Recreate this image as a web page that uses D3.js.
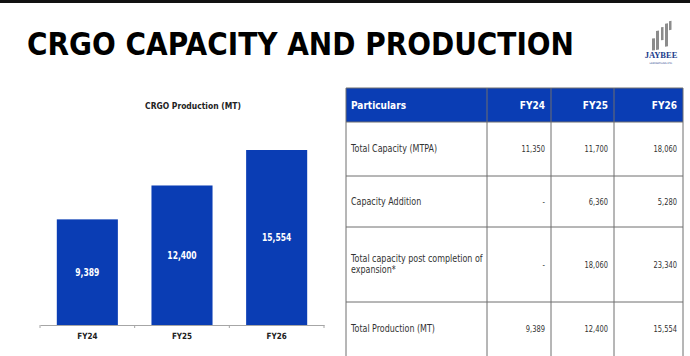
<!DOCTYPE html>
<html>
<head>
<meta charset="utf-8">
<script src="https://cdn.jsdelivr.net/npm/d3@7"></script>
<style>
  body { margin: 0; background: #fff; }
  svg { display: block; }
</style>
</head>
<body>
<div id="chart"></div>
<script>
// chart data
const years = ["FY24", "FY25", "FY26"];
const production = [9389, 12400, 15554];

// table data
const tableHeader = ["Particulars", "FY24", "FY25", "FY26"];
const rowLabels = [
    ["Total Capacity (MTPA)"],
    ["Capacity Addition"],
    ["Total capacity post completion of", "expansion*"],
    ["Total Production (MT)"]
];
const totalCapacity = ["11,350", "11,700", "18,060"];
const capacityAddition = ["-", "6,360", "5,280"];
const capacityPostExpansion = ["-", "18,060", "23,340"];
const totalProduction = ["9,389", "12,400", "15,554"];

const W = 690, H = 356;
const blue = "#0a3db4";
const font = "'DejaVu Sans', sans-serif";

// squeeze text horizontally around its own x (the source font is a narrow DIN-like face)
function squeeze(sel, k) {
    sel.attr("transform", function () {
        const px = +this.getAttribute("x") || 0;
        return `translate(${px * (1 - k)},0) scale(${k},1)`;
    });
}

const svg = d3.select("#chart").append("svg")
    .attr("width", W)
    .attr("height", H)
    .attr("viewBox", [0, 0, W, H]);

// top dark strip
svg.append("rect").attr("x", 0).attr("y", 0).attr("width", W).attr("height", 3).attr("fill", "#111");

// page title
svg.append("text")
    .attr("x", 27).attr("y", 55)
    .attr("font-family", font)
    .attr("font-weight", "bold")
    .attr("font-size", 32)
    .attr("textLength", 547)
    .attr("lengthAdjust", "spacingAndGlyphs")
    .attr("fill", "#000")
    .text("CRGO CAPACITY AND PRODUCTION");

// logo (rough)
const logo = svg.append("g").attr("transform", "translate(649,24)");
[[3, 15, 3, 12], [7, 8, 3, 19], [12, 5, 2.5, 13], [16, 2, 3, 23], [20, 0, 2.5, 9]].forEach(([x, y, w, h]) => {
    logo.append("rect").attr("x", x).attr("y", y).attr("width", w).attr("height", h)
        .attr("fill", "#8c8c8c").attr("transform", "skewY(-8)");
});
const logoText = logo.append("text")
    .attr("text-anchor", "middle")
    .attr("fill", "#1b3c8c");
logoText.append("tspan")
    .attr("x", 12).attr("y", 34)
    .attr("font-family", "'Liberation Serif', serif").attr("font-weight", "bold")
    .attr("font-size", 8.5)
    .text("JAYBEE");
logoText.append("tspan")
    .attr("x", 12).attr("y", 40)
    .attr("font-family", font).attr("font-size", 2.5)
    .text("LAMINATIONS LTD.");

// ---- bar chart ----
const x = d3.scaleBand()
    .domain(years)
    .range([40, 324])
    .paddingInner(0.355)
    .paddingOuter(0.1775);

const y = d3.scaleLinear()
    .domain([0, d3.max(production)])
    .range([325, 150]);

svg.append("text")
    .attr("x", 193).attr("y", 109)
    .attr("text-anchor", "middle")
    .attr("font-family", font)
    .attr("font-weight", "bold")
    .attr("font-size", 9.5)
    .attr("fill", "#222")
    .text("CRGO Production (MT)")
    .call(squeeze, 0.8);

svg.append("g")
    .selectAll("rect")
    .data(production)
    .join("rect")
    .attr("x", (d, i) => x(years[i]))
    .attr("y", d => y(d))
    .attr("width", x.bandwidth())
    .attr("height", d => y(0) - y(d))
    .attr("fill", blue);

svg.append("g")
    .selectAll("text")
    .data(production)
    .join("text")
    .attr("x", (d, i) => x(years[i]) + x.bandwidth() / 2)
    .attr("y", d => (y(d) + y(0)) / 2 + 4)
    .attr("text-anchor", "middle")
    .attr("font-family", font)
    .attr("font-weight", "bold")
    .attr("font-size", 10)
    .attr("fill", "#fff")
    .text(d => d3.format(",")(d))
    .call(squeeze, 0.76);

// x axis with ticks at band boundaries
const axis = svg.append("g")
    .attr("transform", `translate(0,${y(0)})`)
    .call(d3.axisBottom(x).tickSize(0).tickSizeOuter(0).tickPadding(8));
axis.select(".domain").attr("stroke", "#a6a6a6").attr("stroke-width", 1);
axis.selectAll(".tick text")
    .attr("font-family", font)
    .attr("font-weight", "bold")
    .attr("font-size", 8.5)
    .attr("fill", "#222")
    .call(squeeze, 0.85);
const bounds = years.map(d => x(d) - x.step() * x.paddingInner() / 2).concat([x.range()[1]]);
bounds[0] = x.range()[0];
axis.selectAll(".bound")
    .data(bounds)
    .join("line")
    .attr("class", "bound")
    .attr("x1", d => d).attr("x2", d => d)
    .attr("y1", 0).attr("y2", 3)
    .attr("stroke", "#a6a6a6");

// ---- table ----
const colEdges = [346, 487, 551, 614, 683];
const rowEdges = [88, 122, 176, 227, 302, 356];
const rowValues = [totalCapacity, capacityAddition, capacityPostExpansion, totalProduction];

const table = svg.append("g");

table.append("rect")
    .attr("x", colEdges[0]).attr("y", rowEdges[0])
    .attr("width", colEdges[4] - colEdges[0])
    .attr("height", rowEdges[1] - rowEdges[0])
    .attr("fill", blue);

// header text
tableHeader.forEach((h, i) => {
    table.append("text")
        .attr("x", i === 0 ? colEdges[0] + 5 : colEdges[i + 1] - 6)
        .attr("y", (rowEdges[0] + rowEdges[1]) / 2 + 4)
        .attr("text-anchor", i === 0 ? "start" : "end")
        .attr("font-family", font)
        .attr("font-weight", "bold")
        .attr("font-size", 11)
        .attr("fill", "#fff")
        .text(h)
        .call(squeeze, 0.82);
});

// body rows
rowLabels.forEach((lines, r) => {
    const mid = (rowEdges[r + 1] + rowEdges[r + 2]) / 2;
    table.append("text")
        .attr("x", colEdges[0] + 5)
        .attr("font-family", font)
        .attr("font-size", 9.6)
        .attr("fill", "#333")
        .call(squeeze, 0.83)
        .selectAll("tspan")
        .data(lines)
        .join("tspan")
        .attr("x", colEdges[0] + 5)
        .attr("y", (d, i) => mid + 3.5 + (i - (lines.length - 1) / 2) * 11)
        .text(d => d);
    rowValues[r].forEach((v, c) => {
        table.append("text")
            .attr("x", colEdges[c + 2] - 6)
            .attr("y", mid + 3.5)
            .attr("text-anchor", "end")
            .attr("font-family", font)
            .attr("font-size", 9.6)
            .attr("fill", "#333")
            .text(v)
            .call(squeeze, 0.7);
    });
});

// grid lines
const gridColor = "#6e6e6e";
rowEdges.slice(1, 5).forEach(yy => {
    table.append("line")
        .attr("x1", colEdges[0]).attr("x2", colEdges[4])
        .attr("y1", yy).attr("y2", yy)
        .attr("stroke", gridColor).attr("stroke-width", 1);
});
colEdges.forEach(xx => {
    table.append("line")
        .attr("x1", xx).attr("x2", xx)
        .attr("y1", rowEdges[0]).attr("y2", H)
        .attr("stroke", gridColor).attr("stroke-width", 1);
});
table.append("line")
    .attr("x1", colEdges[0]).attr("x2", colEdges[4])
    .attr("y1", rowEdges[0]).attr("y2", rowEdges[0])
    .attr("stroke", gridColor).attr("stroke-width", 1);
</script>
</body>
</html>
